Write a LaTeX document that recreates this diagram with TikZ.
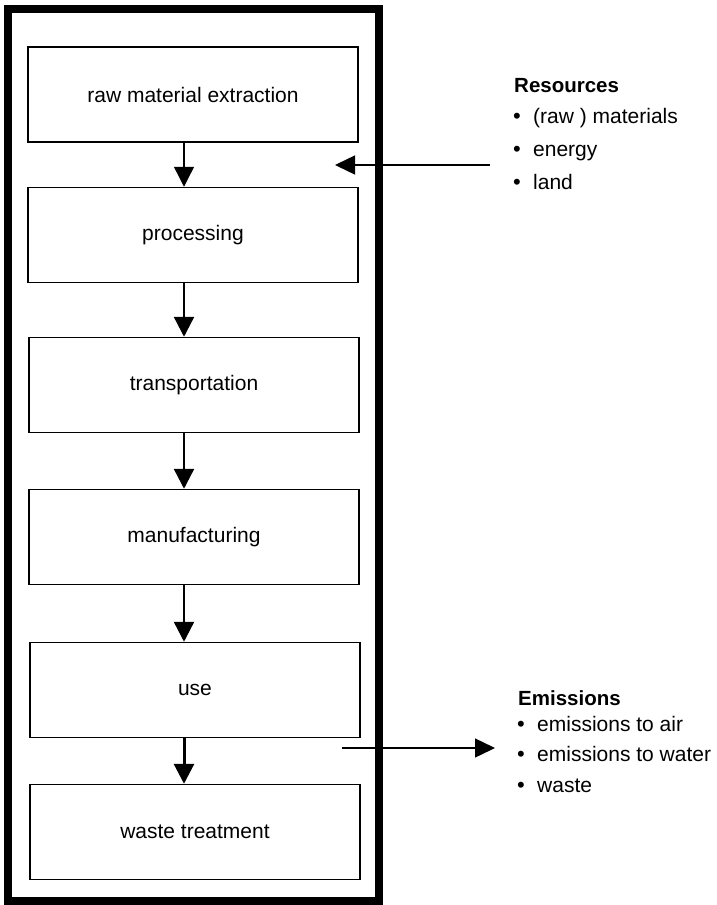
\documentclass[tikz,border=0pt]{standalone}
\usepackage{fontspec}
\setmainfont{Liberation Sans}
\usetikzlibrary{arrows.meta}
\begin{document}
\begin{tikzpicture}[x=1pt,y=-1pt,
  stage/.style={draw, line width=1.5pt, minimum width=330pt, minimum height=95pt,
    inner sep=0pt, font=\fontsize{21}{25}\selectfont},
  flow/.style={line width=2.4pt, -{Triangle[width=20pt,length=20pt]}},
  side/.style={line width=1.4pt, -{Triangle[width=19pt,length=20pt]}},
  title/.style={anchor=base west, inner sep=0pt, font=\fontsize{20.5}{24}\selectfont\bfseries},
  item/.style={anchor=base west, inner sep=0pt, font=\fontsize{21}{25}\selectfont},
  dot/.style={anchor=base west, inner sep=0pt, font=\fontsize{22}{25}\selectfont}]
\useasboundingbox (0,0) rectangle (717,905);
\fill[white] (0,0) rectangle (717,905);

% system boundary
\draw[line width=8pt] (8,9) rectangle (379,901);

% life-cycle stages
\node[stage] (s1) at (193,94.5) {raw material extraction};
\node[stage] (s2) at (193,235) {processing};
\node[stage] (s3) at (194,385) {transportation};
\node[stage] (s4) at (194,537) {manufacturing};
\node[stage] (s5) at (195,690) {use};
\node[stage] (s6) at (195,832) {waste treatment};

% flow between stages
\coordinate (ax) at (184,0);
\draw[flow, line width=1.4pt] (s1.south -| ax) -- (s2.north -| ax);
\draw[flow] (s2.south -| ax) -- (s3.north -| ax);
\draw[flow] (s3.south -| ax) -- (s4.north -| ax);
\draw[flow] (s4.south -| ax) -- (s5.north -| ax);
\draw[flow, line width=3pt] (s5.south -| ax) -- (s6.north -| ax);

% inputs
\node[title] (rt) at (514,92) {Resources};
\node[dot] (rb1) at (513,123) {\textbullet};
\node[item] (r1) at (533,123) {(raw ) materials};
\node[dot] (rb2) at (513,156) {\textbullet};
\node[item] (r2) at (533,156) {energy};
\node[dot] (rb3) at (513,189) {\textbullet};
\node[item] (r3) at (533,189) {land};
\coordinate (rin) at (490,165);
\coordinate (rend) at (335,165);
\draw[side] (rin) -- (rend);

% outputs
\node[title] (et) at (518,705) {Emissions};
\node[dot] (eb1) at (517,731) {\textbullet};
\node[item] (e1) at (537,731) {emissions to air};
\node[dot] (eb2) at (517,761) {\textbullet};
\node[item] (e2) at (537,761) {emissions to water};
\node[dot] (eb3) at (517,792) {\textbullet};
\node[item] (e3) at (537,792) {waste};
\coordinate (eout) at (342,748);
\coordinate (eend) at (495,748);
\draw[side] (eout) -- (eend);
\end{tikzpicture}
\end{document}
